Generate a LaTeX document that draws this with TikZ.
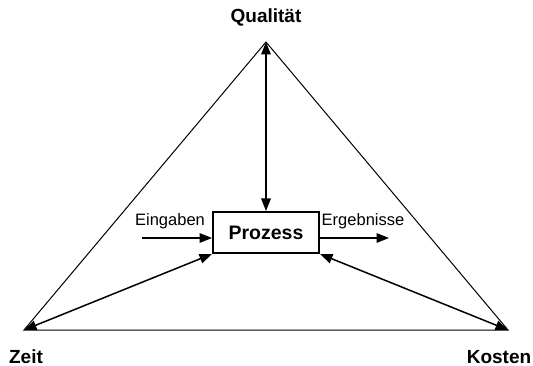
\documentclass[tikz,border=0pt]{standalone}
\usepackage{fontspec}
\setmainfont{Liberation Sans}
\usetikzlibrary{positioning, arrows.meta}

\begin{document}
\begin{tikzpicture}[
    x=1pt, y=-1pt,
    ecke/.style={
        font=\fontsize{19}{19}\selectfont\bfseries,
        anchor=base
    },
    beschriftung/.style={
        font=\fontsize{16.5}{16.5}\selectfont,
        anchor=base
    },
    prozessbox/.style={
        rectangle,
        draw,
        line width=2pt,
        minimum width=106pt,
        minimum height=41pt,
        inner sep=0pt,
        font=\fontsize{19.5}{19.5}\selectfont\bfseries
    },
    kante/.style={
        line width=1pt
    },
    pfeil/.style={
        -{Triangle[length=12.5pt,width=9.5pt]},
        line width=1.5pt
    },
    doppelpfeil/.style={
        {Triangle[length=12.5pt,width=9.5pt]}-{Triangle[length=12.5pt,width=9.5pt]},
        line width=1.5pt
    }
]
\useasboundingbox (0,0) rectangle (533,366);

% Ecken des Dreiecks
\coordinate (qualitaet) at (266,42);
\coordinate (zeit) at (24,330);
\coordinate (kosten) at (508,330);

\node[ecke] (lqualitaet) at (266,23) {Qualität};
\node[ecke] (lzeit) at (26,363) {Zeit};
\node[ecke] (lkosten) at (499,363) {Kosten};

\node[prozessbox] (prozess) at (266,232.5) {Prozess};

\coordinate (ein) at (142,238);
\coordinate (aus) at (389,238);
\node[beschriftung] (leingaben) at (170,226) {Eingaben};
\node[beschriftung] (lergebnisse) at (363,226) {Ergebnisse};

\draw[kante] (qualitaet) -- (zeit) -- (kosten) -- cycle;

\draw[doppelpfeil] (prozess.north) -- (qualitaet);
\draw[doppelpfeil] (prozess.south west) -- (zeit);
\draw[doppelpfeil] (prozess.south east) -- (kosten);
\draw[pfeil] (ein) -- (ein -| prozess.west);
\draw[pfeil] (aus -| prozess.east) -- (aus);

\end{tikzpicture}
\end{document}
